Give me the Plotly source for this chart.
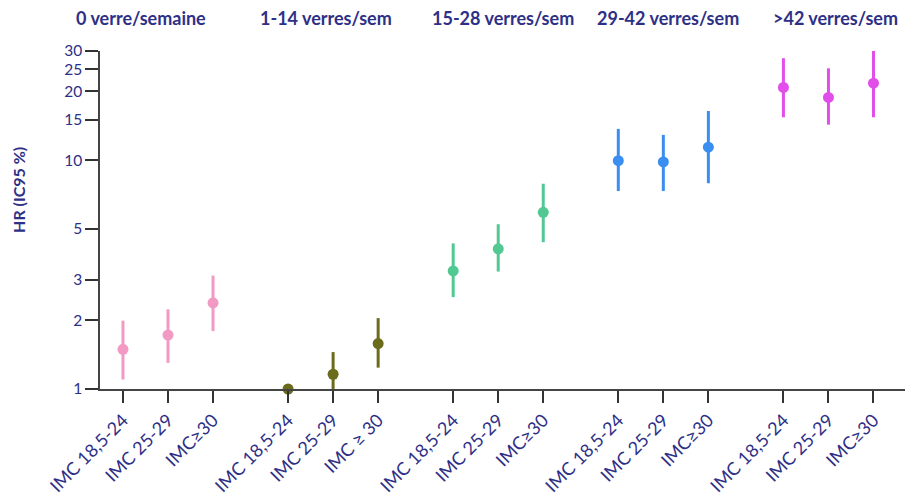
import plotly.graph_objects as go
import math

groups = ["0 verre/semaine", "1-14 verres/sem", "15-28 verres/sem", "29-42 verres/sem", ">42 verres/sem"]
colors = ["#F29AC3", "#6B6B1C", "#52C992", "#3A8EF0", "#E14EEA"]
bmi_labels = [
    ["IMC 18,5-24", "IMC 25-29", "IMC≥30"],
    ["IMC 18,5-24", "IMC 25-29", "IMC ≥ 30"],
    ["IMC 18,5-24", "IMC 25-29", "IMC≥30"],
    ["IMC 18,5-24", "IMC 25-29", "IMC≥30"],
    ["IMC 18,5-24", "IMC 25-29", "IMC≥30"],
]
hr = [
    [1.49, 1.72, 2.38],
    [1.00, 1.16, 1.58],
    [3.28, 4.10, 5.92],
    [9.95, 9.82, 11.4],
    [20.8, 18.8, 21.7],
]
ci_low = [
    [1.10, 1.30, 1.79],
    [1.00, 0.96, 1.24],
    [2.52, 3.26, 4.38],
    [7.33, 7.33, 7.93],
    [15.4, 14.3, 15.4],
]
ci_high = [
    [1.99, 2.23, 3.13],
    [1.00, 1.45, 2.04],
    [4.33, 5.25, 7.89],
    [13.7, 12.9, 16.4],
    [27.9, 25.2, 30.3],
]
y_ticks = [1, 2, 3, 5, 10, 15, 20, 25, 30]

navy = "#2E2F86"
fig = go.Figure()
tickvals, ticktext = [], []
for g in range(len(groups)):
    xs = [g * 11 + i * 3 for i in range(3)]
    tickvals += xs
    ticktext += bmi_labels[g]
    fig.add_trace(go.Scatter(
        x=xs, y=hr[g], mode="markers",
        marker=dict(color=colors[g], size=11),
        error_y=dict(type="data", symmetric=False,
                     array=[h - m for h, m in zip(ci_high[g], hr[g])],
                     arrayminus=[m - l for m, l in zip(hr[g], ci_low[g])],
                     color=colors[g], thickness=3, width=0),
        showlegend=False, cliponaxis=False,
    ))

header_x = [1.2, 13.5, 25.3, 36.3, 47.5]
for g, name in enumerate(groups):
    fig.add_annotation(x=header_x[g], y=1.0, xref="x", yref="paper", yshift=33,
                       yanchor="middle", xanchor="center",
                       text="<b>%s</b>" % name, showarrow=False,
                       font=dict(family="Lato", size=18, color=navy))

fig.add_annotation(x=-0.1006, y=0.589, xref="paper", yref="paper", text="<b>HR (IC95 %)</b>",
                   showarrow=False, textangle=-90, xanchor="center", yanchor="middle",
                   font=dict(family="Lato", size=16, color=navy))

fig.update_layout(
    width=905, height=500, plot_bgcolor="white", paper_bgcolor="white",
    margin=dict(l=100, r=0, t=51, b=111),
    font=dict(family="Lato", color=navy),
)
fig.update_xaxes(range=[-1.53, 52.1], tickvals=tickvals, ticktext=ticktext,
                 tickangle=-45, ticks="outside", ticklen=12, tickwidth=1.5, tickcolor="#333",
                 showline=True, linecolor="#444", linewidth=1.5, showgrid=False, zeroline=False,
                 tickfont=dict(family="Lato", size=18, color=navy))
fig.update_yaxes(type="log", range=[0, math.log10(30)], tickvals=y_ticks,
                 ticktext=[str(v) for v in y_ticks],
                 ticks="outside", ticklen=13, tickwidth=1.5, tickcolor="#333",
                 showline=True, linecolor="#444", linewidth=1.5, showgrid=False, zeroline=False,
                 tickfont=dict(family="Lato", size=15.5, color=navy))

fig.write_html("out.html")
